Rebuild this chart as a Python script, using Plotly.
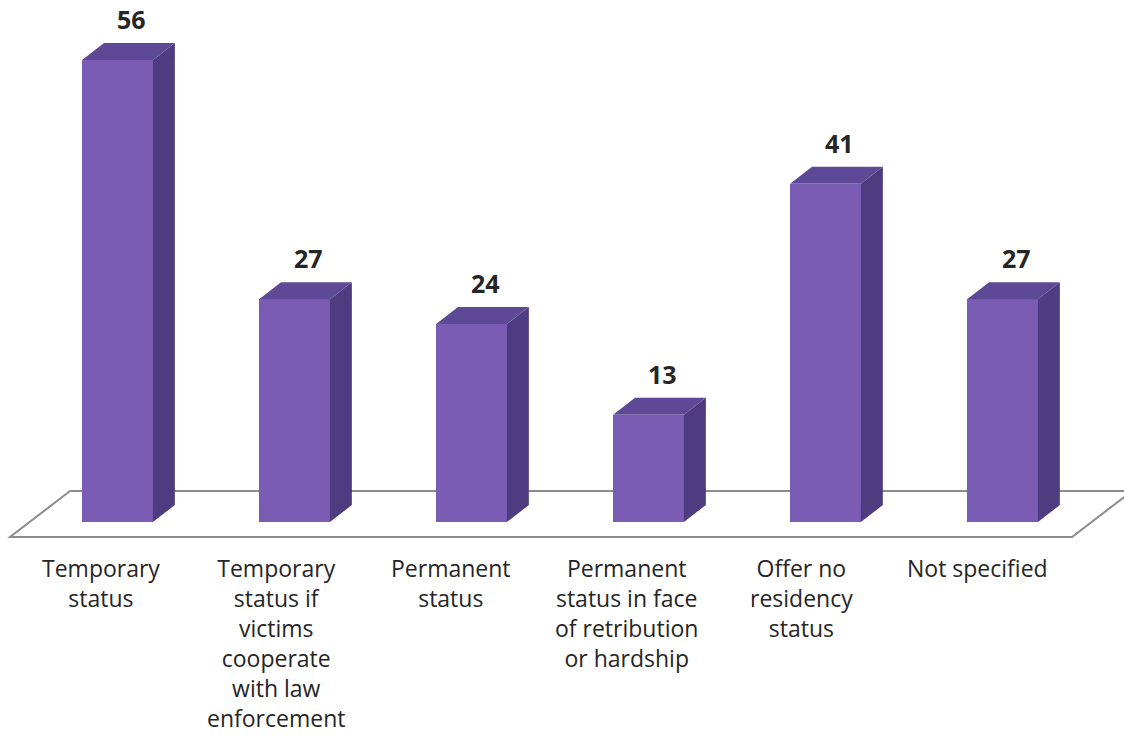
import plotly.graph_objects as go

# Categories and counts
categories = [
    "Temporary<br>status",
    "Temporary<br>status if<br>victims<br>cooperate<br>with law<br>enforcement",
    "Permanent<br>status",
    "Permanent<br>status in face<br>of retribution<br>or hardship",
    "Offer no<br>residency<br>status",
    "Not specified",
]
counts = [56, 27, 24, 13, 41, 27]

# Styling
FRONT = "#7A5CB5"
SIDE = "#4E3C80"
TOP = "#5E4996"
TEXT = "#262626"
W, H = 1124, 742

# Geometry of the pseudo-3D bars (in axis units)
bar_w = 0.40          # front face width
depth_x = 0.124       # depth offset along x
depth_y = 2.06        # depth offset along y

x = list(range(len(categories)))

fig = go.Figure()
fig.add_trace(go.Bar(
    x=x, y=counts, width=bar_w,
    marker=dict(color=FRONT, line=dict(width=0)),
    hoverinfo="skip",
))

shapes = []

# Floor plane under the bars
n = len(categories)
f_front, f_back = -1.82, 3.76
fl, fr = -0.607, n - 1 + 0.393
fdx = 0.339
shapes.append(dict(
    type="path", xref="x", yref="y", layer="below",
    path=(f"M {fl},{f_front} L {fr},{f_front} L {fr + fdx},{f_back} "
          f"L {fl + fdx},{f_back} Z"),
    fillcolor="white", line=dict(color="#8C8C8C", width=2),
))

# Side and top faces of each bar
for xi, v in zip(x, counts):
    l, r = xi - bar_w / 2, xi + bar_w / 2
    shapes.append(dict(
        type="path", xref="x", yref="y", layer="above",
        path=(f"M {r},0 L {r + depth_x},{depth_y} L {r + depth_x},{v + depth_y} "
              f"L {r},{v} Z"),
        fillcolor=SIDE, line=dict(width=0),
    ))
    shapes.append(dict(
        type="path", xref="x", yref="y", layer="above",
        path=(f"M {l},{v} L {r},{v} L {r + depth_x},{v + depth_y} "
              f"L {l + depth_x},{v + depth_y} Z"),
        fillcolor=TOP, line=dict(width=0),
    ))

annotations = []
for xi, v, cat in zip(x, counts, categories):
    # value label above the bar
    annotations.append(dict(
        x=xi, y=v, xref="x", yref="y", text=f"<b>{v}</b>",
        showarrow=False, xshift=14, yshift=41, yanchor="middle",
        font=dict(family="Open Sans", size=25, color=TEXT),
    ))
    # category label below the floor
    annotations.append(dict(
        x=xi, y=0, xref="x", yref="y", text=cat,
        showarrow=False, xshift=-17 - 1.7 * xi, yshift=-28, yanchor="top",
        align="center",
        font=dict(family="Open Sans", size=23, color=TEXT),
    ))

fig.update_layout(
    width=W, height=H, autosize=False,
    margin=dict(l=0, r=0, t=0, b=0, pad=0),
    paper_bgcolor="white", plot_bgcolor="white",
    showlegend=False,
    shapes=shapes, annotations=annotations,
    xaxis=dict(visible=False, range=[-117.5 / 177, (W - 117.5) / 177], fixedrange=True),
    yaxis=dict(visible=False, range=[(522 - H) / 8.25, 522 / 8.25], fixedrange=True),
    bargap=0,
)

fig.write_html("out.html")
